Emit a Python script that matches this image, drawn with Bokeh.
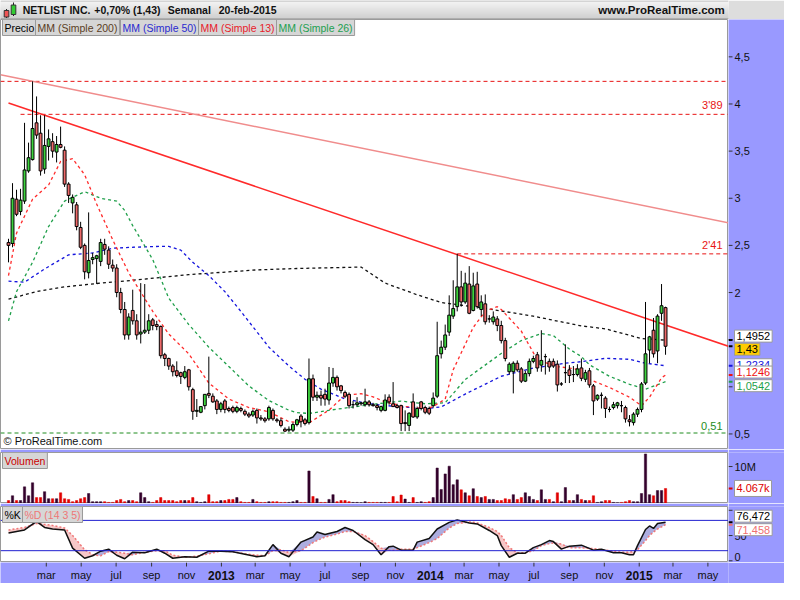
import numpy as np
import pandas as pd
from bokeh.plotting import figure
from bokeh.layouts import column, row
from bokeh.models import Range1d, Label, Span
from bokeh.core.properties import value
from bokeh.embed import file_html
from bokeh.resources import INLINE

FONT = "Liberation Sans"
PURPLE = "#9999ff"

# ---------------- data ----------------
last_week = "2015-02-16"
opens = [2.53, 2.52, 2.99, 2.86, 2.97, 3.29, 3.41, 3.80, 3.69, 3.31, 3.55, 3.60, 3.49, 3.57, 3.51, 3.15, 2.95, 2.93, 2.69, 2.50,
         2.21, 2.35, 2.36, 2.33, 2.51, 2.45, 2.29, 2.26, 2.00, 1.82, 1.55, 1.81, 1.70, 1.56, 1.58, 1.60, 1.71, 1.66, 1.64, 1.34,
         1.30, 1.22, 1.17, 1.15, 1.10, 1.18, 0.97, 0.74, 0.73, 0.80, 0.93, 0.90, 0.85, 0.76, 0.85, 0.77, 0.78, 0.74, 0.77, 0.74,
         0.71, 0.70, 0.75, 0.67, 0.66, 0.66, 0.75, 0.65, 0.64, 0.55, 0.54, 0.54, 0.60, 0.69, 0.65, 0.62, 1.085, 0.89, 0.91, 0.92,
         0.86, 1.04, 1.10, 1.01, 0.94, 0.92, 0.81, 0.81, 0.82, 0.81, 0.84, 0.81, 0.80, 0.75, 0.75, 0.89, 0.82, 0.80, 0.80, 0.62,
         0.59, 0.84, 0.68, 0.84, 0.78, 0.77, 0.80, 0.90, 1.35, 1.42, 1.58, 1.75, 1.85, 2.06, 1.90, 2.09, 1.81, 2.09, 1.82, 1.88,
         1.72, 1.69, 1.72, 1.65, 1.49, 1.16, 1.16, 1.25, 1.19, 1.06, 1.14, 1.27, 1.34, 1.23, 1.32, 1.27, 1.27, 1.24, 1.03, 1.15,
         1.18, 1.13, 1.13, 1.20, 1.08, 1.17, 1.01, 0.87, 0.91, 0.88, 0.76, 0.78, 0.80, 0.80, 0.78, 0.65, 0.62, 0.71, 0.76, 1.04,
         1.39, 1.60, 1.38, 1.78, 1.84]
highs = [2.57, 3.16, 3.09, 3.10, 3.80, 3.59, 4.24, 4.08, 3.88, 3.88, 3.73, 3.69, 3.66, 3.76, 3.55, 3.17, 3.04, 2.96, 2.75, 2.52,
         2.85, 2.42, 2.40, 2.57, 2.57, 2.49, 2.35, 2.30, 2.05, 1.90, 1.78, 2.03, 1.77, 2.10, 2.09, 1.77, 1.73, 1.70, 1.65, 1.36,
         1.31, 1.24, 1.27, 1.16, 1.22, 1.19, 0.99, 0.87, 0.79, 0.92, 1.32, 0.93, 0.87, 0.84, 0.87, 0.79, 0.80, 0.80, 0.79, 0.76,
         0.73, 0.76, 0.77, 0.70, 0.68, 0.80, 0.77, 0.67, 0.67, 0.57, 0.58, 0.62, 0.66, 0.71, 0.67, 1.30, 1.13, 0.95, 0.96, 0.98,
         1.21, 1.20, 1.12, 1.02, 0.96, 0.94, 0.85, 0.89, 0.84, 0.98, 0.86, 0.83, 0.82, 0.80, 0.92, 0.92, 1.05, 0.82, 0.81, 0.75,
         0.73, 0.93, 0.79, 0.85, 0.80, 0.79, 0.94, 1.69, 1.49, 1.66, 1.97, 2.13, 2.41, 2.23, 2.21, 2.28, 2.21, 2.22, 1.97, 1.98,
         1.76, 1.80, 1.75, 1.70, 1.52, 1.26, 1.27, 1.28, 1.21, 1.17, 1.30, 1.33, 1.37, 1.60, 1.35, 1.30, 1.30, 1.28, 1.05, 1.45,
         1.23, 1.22, 1.24, 1.30, 1.18, 1.20, 1.03, 0.92, 0.94, 0.90, 0.79, 0.84, 0.84, 0.85, 0.80, 0.70, 0.73, 0.78, 1.05, 1.90,
         1.54, 1.73, 1.77, 2.09, 1.85]
lows = [2.32, 2.48, 2.81, 2.82, 2.94, 3.27, 3.40, 3.63, 3.24, 3.26, 3.40, 3.43, 3.38, 3.53, 3.12, 2.95, 2.84, 2.66, 2.46, 2.14,
        2.15, 2.30, 2.09, 2.28, 2.40, 2.25, 2.22, 1.95, 1.78, 1.50, 1.50, 1.66, 1.50, 1.46, 1.56, 1.56, 1.60, 1.60, 1.30, 1.22,
        1.18, 1.11, 1.10, 1.03, 1.08, 0.96, 0.65, 0.68, 0.72, 0.76, 0.88, 0.83, 0.71, 0.73, 0.72, 0.73, 0.72, 0.72, 0.73, 0.69,
        0.67, 0.68, 0.61, 0.64, 0.62, 0.64, 0.64, 0.62, 0.57, 0.52, 0.52, 0.52, 0.58, 0.57, 0.59, 0.60, 0.85, 0.85, 0.80, 0.80,
        0.81, 1.00, 0.96, 0.93, 0.88, 0.77, 0.77, 0.79, 0.80, 0.79, 0.79, 0.79, 0.75, 0.73, 0.74, 0.81, 0.79, 0.77, 0.53, 0.53,
        0.53, 0.67, 0.66, 0.75, 0.71, 0.70, 0.78, 0.88, 1.30, 1.39, 1.54, 1.72, 1.80, 1.85, 1.88, 1.77, 1.80, 1.83, 1.75, 1.66,
        1.68, 1.66, 1.59, 1.46, 1.27, 1.13, 0.93, 1.16, 1.04, 1.05, 1.11, 1.25, 1.16, 1.16, 1.13, 1.16, 1.20, 0.95, 1.01, 1.04,
        1.04, 1.05, 1.11, 1.06, 1.05, 0.99, 0.70, 0.85, 0.77, 0.67, 0.73, 0.76, 0.77, 0.73, 0.62, 0.58, 0.59, 0.68, 0.73, 1.02,
        1.25, 1.31, 1.25, 1.70, 1.34]
closes = [2.50, 3.00, 2.83, 2.98, 3.30, 3.43, 3.74, 3.67, 3.29, 3.56, 3.63, 3.50, 3.57, 3.54, 3.15, 3.03, 3.01, 2.70, 2.48, 2.22,
          2.34, 2.37, 2.39, 2.53, 2.46, 2.30, 2.26, 2.00, 1.82, 1.55, 1.74, 1.70, 1.55, 1.58, 1.60, 1.70, 1.65, 1.64, 1.33, 1.30,
          1.22, 1.16, 1.12, 1.11, 1.16, 1.00, 0.74, 0.75, 0.79, 0.92, 0.91, 0.84, 0.76, 0.82, 0.76, 0.75, 0.74, 0.78, 0.75, 0.71,
          0.69, 0.74, 0.67, 0.66, 0.64, 0.78, 0.66, 0.64, 0.59, 0.53, 0.55, 0.60, 0.65, 0.63, 0.61, 1.085, 0.89, 0.91, 0.88, 0.87,
          1.04, 1.10, 1.00, 0.96, 0.90, 0.80, 0.81, 0.83, 0.83, 0.84, 0.81, 0.80, 0.78, 0.79, 0.86, 0.84, 0.79, 0.78, 0.61, 0.61,
          0.72, 0.68, 0.77, 0.77, 0.73, 0.72, 0.88, 1.33, 1.42, 1.55, 1.76, 1.83, 2.06, 1.90, 2.10, 1.78, 2.07, 1.85, 1.90, 1.69,
          1.72, 1.74, 1.65, 1.49, 1.30, 1.24, 1.25, 1.18, 1.06, 1.14, 1.27, 1.30, 1.20, 1.28, 1.32, 1.21, 1.22, 1.02, 1.03, 1.15,
          1.12, 1.13, 1.19, 1.09, 1.15, 1.02, 0.85, 0.91, 0.91, 0.77, 0.76, 0.81, 0.83, 0.80, 0.66, 0.63, 0.71, 0.76, 1.03, 1.35,
          1.53, 1.35, 1.75, 1.86, 1.43]
volume_m = [0.8, 2.1, 0.8, 0.8, 4.5, 2.1, 5.6, 1.6, 1.6, 3.2, 1.3, 1.3, 1.3, 2.9, 1.3, 1.1, 0.5, 0.8, 1.3, 1.6,
            2.7, 0.5, 0.5, 0.5, 0.5, 0.3, 0.3, 0.8, 1.1, 0.5, 0.8, 0.8, 0.5, 2.9, 1.6, 0.5, 0.3, 0.8, 1.6, 0.8,
            0.8, 0.8, 0.5, 0.8, 0.8, 0.8, 1.6, 0.5, 0.3, 0.5, 2.4, 0.5, 0.5, 0.8, 0.8, 1.1, 1.1, 1.6, 0.5, 0.3,
            0.3, 1.1, 0.5, 0.3, 0.3, 0.5, 0.5, 0.5, 0.3, 0.3, 0.3, 0.5, 0.8, 0.3, 0.3, 8.8, 1.9, 1.3, 0.3, 0.3,
            1.1, 2.4, 0.5, 0.8, 0.8, 0.5, 0.3, 0.3, 0.2, 0.5, 0.3, 0.3, 0.3, 0.3, 0.3, 0.3, 1.9, 0.5, 2.3, 1.2,
            0.3, 1.6, 0.3, 0.5, 0.3, 0.5, 1.6, 9.6, 3.8, 8.0, 10.1, 5.1, 6.4, 3.7, 2.9, 2.1, 4.0, 1.9, 1.6, 1.9,
            1.1, 1.1, 0.8, 0.8, 1.3, 1.1, 2.4, 1.1, 1.6, 2.9, 1.9, 1.1, 0.8, 3.7, 1.1, 1.1, 0.5, 2.9, 0.5, 4.3,
            0.8, 0.8, 2.4, 1.1, 0.8, 0.8, 2.1, 0.3, 0.5, 0.8, 0.8, 0.3, 0.2, 0.3, 0.5, 0.8, 0.5, 0.5, 2.7, 13.4,
            2.4, 2.1, 3.5, 3.5, 4.067]

# moving averages (week index, value)
ma200_idx = [0, 7, 14, 23, 31, 45, 62, 72, 88, 94, 102, 108, 119, 131, 143, 149, 158, 164]
ma200_val = [1.93, 2.01, 2.06, 2.10, 2.13, 2.19, 2.24, 2.255, 2.27, 2.10, 1.976, 1.894, 1.832, 1.749, 1.646, 1.615, 1.512, 1.4952]
ma50_idx = [0, 4, 9, 15, 21, 26, 31, 38, 40, 43, 46, 50, 54, 58, 65, 70, 74, 78, 84, 90, 97, 104, 108, 114, 123, 131, 139,
            143, 149, 155, 159, 164]
ma50_val = [2.12, 2.11, 2.25, 2.40, 2.42, 2.47, 2.48, 2.49, 2.49, 2.45, 2.32, 2.18, 2.01, 1.80, 1.42, 1.22, 1.08, 0.975,
            0.872, 0.82, 0.79, 0.769, 0.786, 0.923, 1.112, 1.199, 1.25, 1.267, 1.302, 1.292, 1.25, 1.2234]
ma13_idx = [0, 2, 6, 10, 13, 16, 19, 22, 26, 30, 36, 40, 45, 50, 55, 60, 65, 70, 75, 80, 84, 88, 91, 94, 99, 104, 106,
            109, 111, 116, 119, 122, 123, 128, 132, 137, 143, 145, 150, 155, 158, 160, 163, 164]
ma13_val = [2.18, 2.63, 2.99, 3.14, 3.39, 3.42, 3.25, 2.94, 2.56, 2.21, 1.80, 1.56, 1.35, 1.04, 0.87, 0.78, 0.735, 0.63,
            0.616, 0.753, 0.91, 0.927, 0.893, 0.84, 0.79, 0.769, 0.79, 0.87, 1.18, 1.63, 1.80, 1.85, 1.82, 1.59, 1.285,
            1.215, 1.181, 1.078, 0.993, 0.89, 0.80, 0.89, 1.096, 1.1246]
ma26_idx = [0, 2, 6, 10, 14, 19, 23, 27, 29, 31, 36, 40, 45, 50, 55, 60, 65, 70, 72, 75, 80, 86, 92, 98, 104, 109, 114,
            123, 128, 133, 136, 140, 143, 145, 150, 155, 159, 164]
ma26_val = [1.70, 2.01, 2.32, 2.70, 2.97, 3.07, 3.00, 2.97, 2.87, 2.71, 2.35, 1.94, 1.66, 1.42, 1.215, 1.009, 0.854, 0.751,
            0.727, 0.717, 0.751, 0.786, 0.82, 0.848, 0.82, 0.83, 1.078, 1.354, 1.491, 1.566, 1.543, 1.40, 1.32, 1.233,
            1.112, 1.027, 0.975, 1.0542]

# stochastic %K / %D (14 3 5)
stoch_idx = [0, 4, 7, 9, 11, 14, 16, 19, 21, 23, 25, 27, 29, 31, 34, 37, 39, 41, 44, 47, 50, 53, 56, 59, 62, 64, 66, 68, 70,
             73, 76, 77, 79, 82, 84, 86, 89, 91, 93, 95, 96, 98, 101, 102, 105, 107, 110, 112, 115, 117, 120, 122, 123,
             125, 127, 129, 131, 133, 135, 136, 138, 140, 143, 146, 148, 151, 153, 155, 156, 157, 159, 160, 161, 162, 164]
stoch_k = [55, 61, 78, 66, 63, 61, 25, 5, 10, 19, 23, 11, 4, 17, 16, 23, 15, 5, 8, 7, 19, 19, 18, 13, 8, 10, 32, 15, 8,
           37, 47, 57, 52, 58, 66, 60, 42, 32, 12, 28, 29, 21, 21, 37, 44, 63, 76, 81, 75, 73, 60, 50, 30,
           7, 15, 15, 26, 32, 40, 38, 23, 29, 31, 21, 23, 16, 16, 12, 12, 30, 62, 69, 64, 74, 76.472]
stoch_d = [61, 66, 74, 72, 70, 65, 50, 22, 12, 10, 18, 17, 15, 12, 17, 20, 20, 11, 7, 9, 14, 19, 18, 14, 11, 10, 20, 22, 16,
           20, 36, 40, 47, 53, 58, 58, 50, 38, 25, 21, 21, 23, 23, 26, 36, 44, 65, 74, 77, 75, 66, 58, 50,
           26, 16, 16, 20, 30, 34, 35, 33, 26, 26, 24, 22, 19, 17, 17, 18, 22, 40, 50, 57, 63, 71.458]

# support / resistance levels and trend lines
level_values = [4.24, 3.89, 2.41, 0.51]
level_texts = ["", "3'89", "2'41", "0,51"]
level_starts = ["2011-12-12", "2012-01-16", "2014-02-17", "2011-12-12"]
level_colors = ["#e81414", "#e81414", "#e81414", "#1e8c1e"]
trend_start_dates = ["2011-12-26", "2011-12-12"]
trend_start_prices = [4.01, 4.31]
trend_end_dates = ["2015-06-06", "2015-06-06"]
trend_end_prices = [1.43, 2.74]
trend_colors = ["#ff2a2a", "#f08c8c"]

# axes
price_ticks = [0.5, 1.0, 1.5, 2.0, 2.5, 3.0, 3.5, 4.0, 4.5]
price_tick_labels = ["0,5", "", "", "2", "2,5", "3", "3,5", "4", "4,5"]
volume_ticks = [10]
volume_tick_labels = ["10M"]
stoch_ticks = [0, 50, 100]
stoch_tick_labels = ["0", "50", ""]
month_ticks = ["2012-03-01", "2012-05-01", "2012-07-01", "2012-09-01", "2012-11-01", "2013-01-01", "2013-03-01",
               "2013-05-01", "2013-07-01", "2013-09-01", "2013-11-01", "2014-01-01", "2014-03-01", "2014-05-01",
               "2014-07-01", "2014-09-01", "2014-11-01", "2015-01-01", "2015-03-01", "2015-05-01"]
month_labels = ["mar", "may", "jul", "sep", "nov", "2013", "mar", "may", "jul", "sep", "nov", "2014", "mar", "may",
                "jul", "sep", "nov", "2015", "mar", "may"]

# ---------------- helpers ----------------
def ms(d):
    return float(pd.Timestamp(d).value // 10**6)

dates = pd.date_range(end=last_week, periods=len(closes), freq="7D")
t = np.array([ms(d) for d in dates])
DAY = 86400000.0
xr = Range1d(ms("2011-12-12"), ms("2015-06-06"))
MAIN_W, AX_W = 728, 56


def tag(fig, text, x, y, color, xu="screen", yu="screen", bg="#d6d6d6", yoff=0, size="10.5px"):
    fig.add_layout(Label(x=x, y=y, x_units=xu, y_units=yu, text=text, text_font=FONT,
                         text_font_size=size, text_color=color, text_baseline="middle",
                         text_align="left", background_fill_color=bg, border_line_color="#9a9a9a",
                         padding=2, y_offset=yoff))


def main_fig(height, yr, top=0):
    f = figure(width=MAIN_W, height=height, x_range=xr, y_range=yr, output_backend="svg",
               toolbar_location=None, x_axis_location=None, y_axis_location=None,
               min_border_left=0, min_border_right=0, min_border_top=top, min_border_bottom=0,
               border_fill_color=PURPLE, background_fill_color="white", outline_line_color="#9a9a9a")
    f.grid.visible = False
    return f


def axis_strip(height, yr, ticks, labels, top=0, edge_ticks=()):
    """Right-hand value scale: tick marks + labels drawn through the shared y scale.
    Labels of ticks listed in edge_ticks sit just above their tick so they stay inside."""
    f = figure(width=AX_W, height=height, x_range=Range1d(0, AX_W), y_range=yr, output_backend="svg",
               toolbar_location=None, x_axis_location=None, y_axis_location=None,
               min_border_left=0, min_border_right=0, min_border_top=top, min_border_bottom=0,
               border_fill_color=PURPLE, background_fill_color=PURPLE, outline_line_color=None)
    f.grid.visible = False
    n = len(ticks)
    f.segment(x0=[0] * n, y0=ticks, x1=[4] * n, y1=ticks, line_color="#333333", line_width=1)
    mid = [(tk, lb) for tk, lb in zip(ticks, labels) if tk not in edge_ticks]
    low = [(tk, lb) for tk, lb in zip(ticks, labels) if tk in edge_ticks]
    for group, base in ((mid, "middle"), (low, "bottom")):
        if group:
            f.text(x=[6] * len(group), y=[g[0] for g in group], text=[g[1] for g in group],
                   text_font=value(FONT), text_font_size="11px", text_baseline=base, text_color="#111111")
    return f


def value_box(f, text, val, color, bg="white", yoff=0):
    f.segment(x0=[0], y0=[val], x1=[4], y1=[val], line_color=color, line_width=2)
    tag(f, text, 6, val, color, xu="screen", yu="data", bg=bg, yoff=yoff, size="11px")

# ---------------- header ----------------
h = figure(width=784, height=19, x_range=Range1d(0, 784), y_range=Range1d(0, 19), output_backend="svg",
           toolbar_location=None, x_axis_location=None, y_axis_location=None, min_border=0,
           outline_line_color=None, border_fill_color="#dddddd")
h.grid.visible = False
grad = []
for k in range(19):
    f = k / 18.0
    cc = int(205 + f * (244 - 205))
    grad.append("#%02x%02x%02x" % (cc, cc, cc))
h.quad(left=[0] * 19, right=[784] * 19, bottom=list(range(19)), top=list(range(1, 20)), color=grad)
h.segment(x0=[0, 0], y0=[0.5, 18.5], x1=[784, 784], y1=[0.5, 18.5], line_color=["#8c8c8c", "#b4b4b4"])
h.segment(x0=[6.5, 14], y0=[1.5, 3.5], x1=[6.5, 14], y1=[10.5, 17], line_color="#222222")
h.quad(left=[4, 11.5], right=[9, 16.5], bottom=[2.5, 5], top=[9, 14.5], fill_color=["#ee5555", "#33cc33"],
       line_color="#333333")
h.text(x=[24, 101, 180, 235], y=[9.5] * 4,
       text=["NETLIST INC.", "+0,70% (1,43)", "Semanal", "20-feb-2015"],
       text_font=value(FONT), text_font_size="10.5px", text_font_style="bold", text_baseline="middle",
       text_color="#111111")
h.text(x=[780], y=[9.5], text=["www.ProRealTime.com"], text_font=value(FONT), text_font_size="11.5px",
       text_font_style="bold", text_baseline="middle", text_align="right", text_color="#111111")

# ---------------- price panel ----------------
price_yr = Range1d(0.335, 4.896)
p = main_fig(430, price_yr)
p_ax = axis_strip(430, price_yr, price_ticks, price_tick_labels)

x_end = xr.end
p.segment(x0=[ms(d) for d in level_starts], y0=level_values, x1=[x_end] * 4, y1=level_values,
          line_color=level_colors, line_dash="4 3", line_width=1)
p.segment(x0=[ms(d) for d in trend_start_dates], y0=trend_start_prices,
          x1=[ms(d) for d in trend_end_dates], y1=trend_end_prices,
          line_color=trend_colors, line_width=1.5)

for idx, vals, col in [(ma200_idx, ma200_val, "#111111"), (ma50_idx, ma50_val, "#1515dd"),
                       (ma26_idx, ma26_val, "#1f9f4a"), (ma13_idx, ma13_val, "#ff2a2a")]:
    p.line(x=t[idx], y=vals, line_color=col, line_dash="3 3", line_width=1.3)

o = np.array(opens); c = np.array(closes)
body_col = np.where(c >= o, "#3ed43e", "#ee6a6a")
p.segment(x0=t, y0=lows, x1=t, y1=highs, line_color="#000000", line_width=1)
p.vbar(x=t, width=5 * DAY, top=np.maximum(o, c), bottom=np.minimum(o, c), fill_color=body_col,
       line_color="#000000", line_width=1)

legend_items = [("Precio", 2, "#000000"), ("MM (Simple 200)", 35, "#5a3d1e"), ("MM (Simple 50)", 120, "#2a2ad0"),
                ("MM (Simple 13)", 198, "#e8202a"), ("MM (Simple 26)", 276, "#22a050")]
for txt, xx, col in legend_items:
    tag(p, txt, xx, 422, col)

for val, txt, col in zip(level_values, level_texts, level_colors):
    if txt:
        p.add_layout(Label(x=722, y=val, x_units="screen", y_units="data", text=txt, text_font=FONT,
                           text_font_size="11px", text_color=col, text_align="right",
                           text_baseline="bottom", y_offset=3))
p.add_layout(Label(x=3, y=3, x_units="screen", y_units="screen", text="\u00a9 ProRealTime.com",
                   text_font=FONT, text_font_size="11px", text_color="#111111", text_baseline="bottom"))

value_box(p_ax, "1,4952", ma200_val[-1], "#000000", yoff=4)
value_box(p_ax, "1,43", closes[-1], "#000000", bg="#ffcc00", yoff=-3)
value_box(p_ax, "1,2234", ma50_val[-1], "#1515dd", yoff=1)
value_box(p_ax, "1,1246", ma13_val[-1], "#ee1111", yoff=3)
value_box(p_ax, "1,0542", ma26_val[-1], "#1f9f4a", yoff=-4)

# ---------------- volume panel ----------------
vol_yr = Range1d(0, 13.8)
v = main_fig(54, vol_yr, top=3)
v_ax = axis_strip(54, vol_yr, volume_ticks, volume_tick_labels, top=3)
vol_col = ["#e00000"] + ["#33002b" if closes[i] >= closes[i - 1] else "#e00000" for i in range(1, len(closes))]
v.vbar(x=t, width=4 * DAY, top=volume_m, bottom=0, fill_color=vol_col, line_color=vol_col, line_width=0.5)
tag(v, "Volumen", 2, 43, "#cc0000")
value_box(v_ax, "4.067k", volume_m[-1], "#dd0000")

# ---------------- stochastic panel ----------------
st_yr = Range1d(-3.4, 107.5)
s = main_fig(59, st_yr, top=3)
s_ax = axis_strip(59, st_yr, stoch_ticks, stoch_tick_labels, top=3, edge_ticks=(0,))
ts = t[stoch_idx]
K = np.array(stoch_k, dtype=float); D = np.array(stoch_d, dtype=float)
s.varea(x=ts, y1=D, y2=np.maximum(K, D), fill_color="#a4a4dc", fill_alpha=0.9)
s.varea(x=ts, y1=np.minimum(K, D), y2=D, fill_color="#f6c2c2", fill_alpha=0.9)
s.add_layout(Span(location=80, dimension="width", line_color="#2020d0", line_width=1))
s.add_layout(Span(location=20, dimension="width", line_color="#2020d0", line_width=1))
s.line(x=ts, y=D, line_color="#f07878", line_dash="2 2", line_width=1.5)
s.line(x=ts, y=K, line_color="#111111", line_width=1.5)
tag(s, "%K", 2, 48, "#000000")
tag(s, "%D (14 3 5)", 22, 48, "#ee7777")
value_box(s_ax, "76,472", stoch_k[-1], "#000000", yoff=6)
value_box(s_ax, "71,458", stoch_d[-1], "#f07070", yoff=-5)

# ---------------- date axis ----------------
xb = figure(width=784, height=21, x_range=xr, y_range=Range1d(0, 21), output_backend="svg",
            toolbar_location=None, x_axis_location=None, y_axis_location=None,
            min_border_left=0, min_border_right=AX_W, min_border_top=0, min_border_bottom=0,
            border_fill_color=PURPLE, background_fill_color=PURPLE, outline_line_color=None)
xb.grid.visible = False
tick_ms = [ms(d) for d in month_ticks]
xb.segment(x0=tick_ms, y0=[21] * len(tick_ms), x1=tick_ms, y1=[17] * len(tick_ms), line_color="#333333")
m_x = [tk for tk, lb in zip(tick_ms, month_labels) if not lb.isdigit()]
m_l = [lb for lb in month_labels if not lb.isdigit()]
y_x = [tk for tk, lb in zip(tick_ms, month_labels) if lb.isdigit()]
y_l = [lb for lb in month_labels if lb.isdigit()]
xb.text(x=m_x, y=[8.5] * len(m_x), text=m_l, text_font=value(FONT), text_font_size="11px",
        text_align="center", text_baseline="middle", text_color="#111111")
xb.text(x=y_x, y=[8.5] * len(y_x), text=y_l, text_font=value(FONT), text_font_size="12px",
        text_font_style="bold", text_align="center", text_baseline="middle", text_color="#111111")

layout = column(h, row(p, p_ax), row(v, v_ax), row(s, s_ax), xb, spacing=0)
open("out.html", "w").write(file_html(layout, INLINE))
